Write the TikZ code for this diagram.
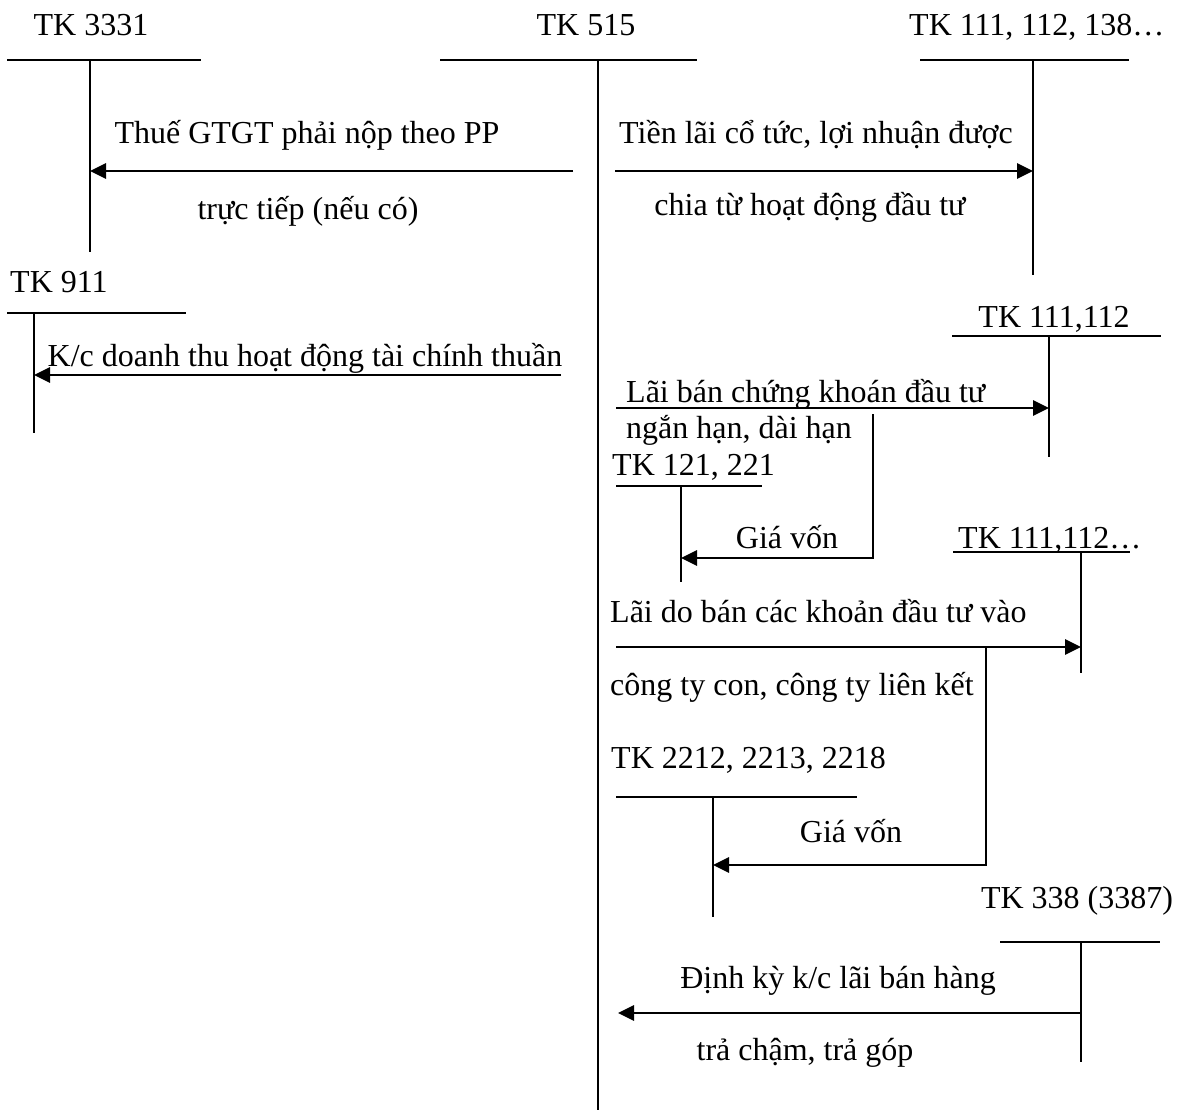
\documentclass[tikz,border=0pt]{standalone}
\usepackage{fontspec}
\setmainfont{Liberation Serif}
\usetikzlibrary{arrows.meta}
\begin{document}
\begin{tikzpicture}[x=1pt,y=-1pt,
  tline/.style={line width=2.2pt},
  flow/.style={line width=2.8pt,-{Triangle[length=16pt,width=15pt]}},
  lbl/.style={inner sep=0pt,font=\fontsize{32}{38}\selectfont,anchor=base},
  lblw/.style={lbl,anchor=base west}]
\useasboundingbox (0,0) rectangle (1184,1111);

% ---------- TK 3331
\node[lbl] (t3331) at (91,35) {TK 3331};
\coordinate (h3331l) at (7,60);   \coordinate (h3331r) at (201,60);
\coordinate (v3331t) at (90,60);  \coordinate (v3331b) at (90,252);
\draw[tline] (h3331l) -- (h3331r);
\draw[tline] (v3331t) -- (v3331b);

% ---------- TK 515
\node[lbl] (t515) at (586,35) {TK 515};
\coordinate (h515l) at (440,60);  \coordinate (h515r) at (697,60);
\coordinate (v515t) at (598,60);  \coordinate (v515b) at (598,1110);
\draw[tline] (h515l) -- (h515r);
\draw[tline] (v515t) -- (v515b);

% ---------- TK 111, 112, 138...
\node[lblw] (t111a) at (909,35) {TK 111, 112, 138…};
\coordinate (h111al) at (920,60); \coordinate (h111ar) at (1129,60);
\coordinate (v111at) at (1033,60); \coordinate (v111ab) at (1033,275);
\draw[tline] (h111al) -- (h111ar);
\draw[tline] (v111at) -- (v111ab);

% arrow A: 515 -> 3331
\coordinate (sA) at (573,171); \coordinate (eA) at (90,171);
\draw[flow] (sA) -- (eA);
\node[lbl] (lA1) at (307,143) {Thuế GTGT phải nộp theo PP};
\node[lbl] (lA2) at (308,219) {trực tiếp (nếu có)};

% arrow B: 515 -> 111
\coordinate (sB) at (615,171); \coordinate (eB) at (1033,171);
\draw[flow] (sB) -- (eB);
\node[lbl] (lB1) at (816,143) {Tiền lãi cổ tức, lợi nhuận được};
\node[lbl] (lB2) at (810,215) {chia từ hoạt động đầu tư};

% ---------- TK 911
\node[lblw] (t911) at (10,292) {TK 911};
\coordinate (h911l) at (7,313);  \coordinate (h911r) at (186,313);
\coordinate (v911t) at (34,313); \coordinate (v911b) at (34,433);
\draw[tline] (h911l) -- (h911r);
\draw[tline] (v911t) -- (v911b);

% arrow C: 515 -> 911
\coordinate (sC) at (561,375); \coordinate (eC) at (34,375);
\draw[flow] (sC) -- (eC);
\node[lbl] (lC) at (305,366) {K/c doanh thu hoạt động tài chính thuần};

% ---------- TK 111,112 (second)
\node[lbl] (t111b) at (1054,327) {TK 111,112};
\coordinate (h111bl) at (952,336); \coordinate (h111br) at (1161,336);
\coordinate (v111bt) at (1049,336); \coordinate (v111bb) at (1049,457);
\draw[tline] (h111bl) -- (h111br);
\draw[tline] (v111bt) -- (v111bb);

% arrow D
\coordinate (sD) at (616,408); \coordinate (eD) at (1049,408);
\draw[flow] (sD) -- (eD);
\node[lblw] (lD1) at (626,402) {Lãi bán chứng khoán đầu tư};
\node[lblw] (lD2) at (626,438) {ngắn hạn, dài hạn};

% ---------- TK 121, 221
\node[lblw] (t121) at (612,475) {TK 121, 221};
\coordinate (h121l) at (616,486); \coordinate (h121r) at (762,486);
\coordinate (v121t) at (681,486); \coordinate (v121b) at (681,582);
\draw[tline] (h121l) -- (h121r);
\draw[tline] (v121t) -- (v121b);

% bent arrow: cost
\coordinate (sG1) at (873,414); \coordinate (mG1) at (873,558); \coordinate (eG1) at (681,558);
\draw[flow] (sG1) -- (mG1) -- (eG1);
\node[lbl] (lG1) at (787,548) {Giá vốn};

% ---------- TK 111,112... (third)
\node[lblw] (t111c) at (958,548) {TK 111,112…};
\coordinate (h111cl) at (953,552); \coordinate (h111cr) at (1130,552);
\coordinate (v111ct) at (1081,552); \coordinate (v111cb) at (1081,673);
\draw[tline] (h111cl) -- (h111cr);
\draw[tline] (v111ct) -- (v111cb);

% arrow E
\coordinate (sE) at (616,647); \coordinate (eE) at (1081,647);
\draw[flow] (sE) -- (eE);
\node[lblw] (lE1) at (610,622) {Lãi do bán các khoản đầu tư vào};
\node[lblw] (lE2) at (610,695) {công ty con, công ty liên kết};

% ---------- TK 2212, 2213, 2218
\node[lblw] (t2212) at (611,768) {TK 2212, 2213, 2218};
\coordinate (h2212l) at (616,797); \coordinate (h2212r) at (857,797);
\coordinate (v2212t) at (713,797); \coordinate (v2212b) at (713,917);
\draw[tline] (h2212l) -- (h2212r);
\draw[tline] (v2212t) -- (v2212b);

% bent arrow: cost 2
\coordinate (sG2) at (986,647); \coordinate (mG2) at (986,865); \coordinate (eG2) at (713,865);
\draw[flow] (sG2) -- (mG2) -- (eG2);
\node[lbl] (lG2) at (851,842) {Giá vốn};

% ---------- TK 338 (3387)
\node[lbl] (t338) at (1077,908) {TK 338 (3387)};
\coordinate (h338l) at (1000,942); \coordinate (h338r) at (1160,942);
\coordinate (v338t) at (1081,942); \coordinate (v338b) at (1081,1062);
\draw[tline] (h338l) -- (h338r);
\draw[tline] (v338t) -- (v338b);

% arrow F
\coordinate (sF) at (1081,1013); \coordinate (eF) at (618,1013);
\draw[flow] (sF) -- (eF);
\node[lbl] (lF1) at (838,988) {Định kỳ k/c lãi bán hàng};
\node[lbl] (lF2) at (805,1060) {trả chậm, trả góp};
\end{tikzpicture}
\end{document}
